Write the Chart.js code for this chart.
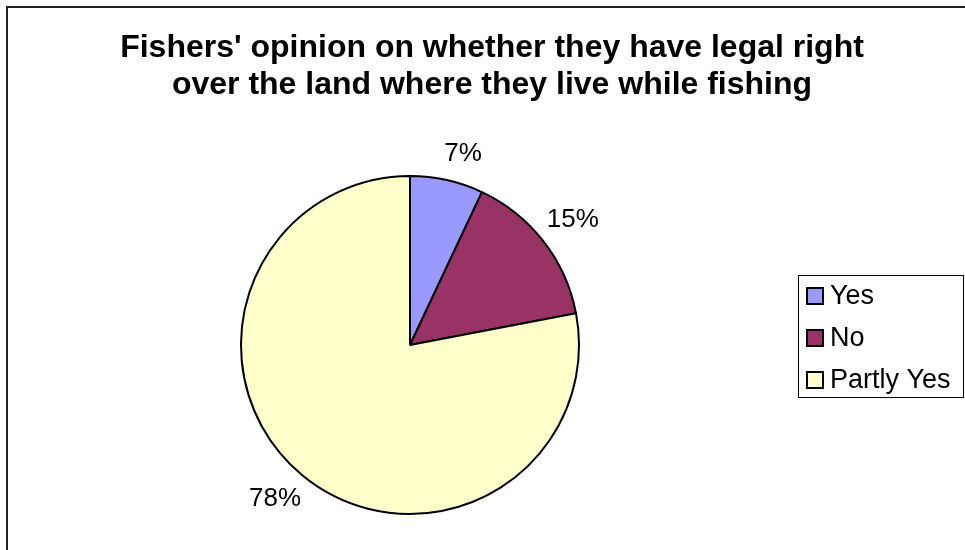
<!DOCTYPE html>
<html>
<head>
<meta charset="utf-8">
<script src="https://cdn.jsdelivr.net/npm/chart.js@4"></script>
<style>
  html, body { margin: 0; padding: 0; background: #fff; }
  #wrap { width: 965px; height: 550px; position: relative; }
</style>
</head>
<body>
<div id="wrap"><canvas id="chart"></canvas></div>
<script>
const titleLines = ["Fishers' opinion on whether they have legal right", "over the land where they live while fishing"];
const categories = ['Yes', 'No', 'Partly Yes'];
const shares = [7, 15, 78];
const sliceColors = ['#9999FF', '#993366', '#FFFFCC'];

const FONT = '"Liberation Sans", Arial, sans-serif';

// frame, title, outside labels and boxed legend, as in the spreadsheet original
const decorations = {
    id: 'decorations',
    beforeDraw(chart) {
	const ctx = chart.ctx;
	ctx.save();
	ctx.strokeStyle = '#222';
	ctx.lineWidth = 2;
	ctx.strokeRect(7, 7, chart.width + 20, chart.height + 20);
	ctx.restore();
    },
    afterDraw(chart) {
	const ctx = chart.ctx;
	ctx.save();
	ctx.fillStyle = '#000';

	// title
	ctx.font = 'bold 32px ' + FONT;
	ctx.textAlign = 'center';
	ctx.textBaseline = 'alphabetic';
	titleLines.forEach((line, i) => ctx.fillText(line, 492, 57 + i * 37));

	// percentage labels outside each slice
	ctx.font = '26px ' + FONT;
	ctx.textBaseline = 'middle';
	const meta = chart.getDatasetMeta(0);
	const total = shares.reduce((a, b) => a + b, 0);
	meta.data.forEach((arc, i) => {
	    const mid = (arc.startAngle + arc.endAngle) / 2;
	    const dx = Math.cos(mid), dy = Math.sin(mid);
	    const text = Math.round(shares[i] / total * 100) + '%';
	    const hw = ctx.measureText(text).width / 2, hh = 13;
	    const d = arc.outerRadius + 14;
	    const x = arc.x + dx * d + Math.sign(dx) * hw * 0.7;
	    const y = arc.y + dy * d + Math.sign(dy) * hh;
	    ctx.fillText(text, x, y);
	});

	// legend
	const lx = 798, ly = 275, lw = 165, lh = 122;
	ctx.lineWidth = 1;
	ctx.strokeStyle = '#000';
	ctx.strokeRect(lx + 0.5, ly + 0.5, lw, lh);
	ctx.font = '27px ' + FONT;
	ctx.textAlign = 'left';
	categories.forEach((name, i) => {
	    const cy = ly + 21 + i * 42;
	    ctx.fillStyle = sliceColors[i];
	    ctx.fillRect(lx + 9, cy - 8, 16, 16);
	    ctx.lineWidth = 2;
	    ctx.strokeRect(lx + 9, cy - 8, 16, 16);
	    ctx.fillStyle = '#000';
	    ctx.fillText(name, lx + 32, cy + 1);
	});
	ctx.restore();
    }
};

const chart = new Chart(document.getElementById('chart'), {
    type: 'pie',
    data: {
	labels: categories,
	datasets: [{
	    data: shares,
	    backgroundColor: sliceColors,
	    borderColor: '#000',
	    borderWidth: 2
	}]
    },
    options: {
	responsive: true,
	maintainAspectRatio: false,
	animation: false,
	events: [],
	layout: { padding: { left: 240, right: 385, top: 175, bottom: 35 } },
	plugins: {
	    legend: { display: false },
	    title: { display: false },
	    tooltip: { enabled: false }
	}
    },
    plugins: [decorations]
});
</script>
</body>
</html>
